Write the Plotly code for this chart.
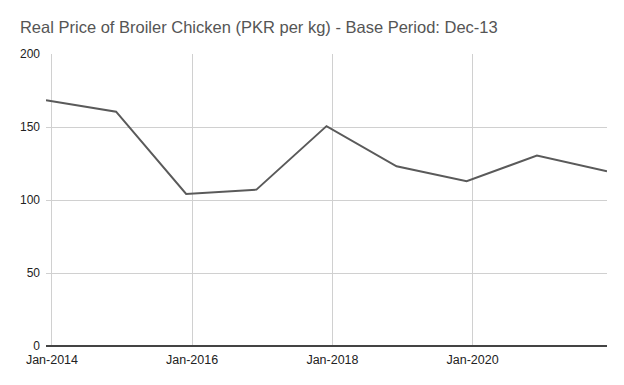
import plotly.graph_objects as go

dates = ["2013-12-01", "2014-12-01", "2015-12-01", "2016-12-01", "2017-12-01",
         "2018-12-01", "2019-12-01", "2020-12-01", "2021-12-01"]
prices = [168.3, 160.5, 104.1, 107.1, 150.6, 123.1, 112.8, 130.5, 119.7]

tick_dates = ["2014-01-01", "2016-01-01", "2018-01-01", "2020-01-01"]
tick_labels = ["Jan-2014", "Jan-2016", "Jan-2018", "Jan-2020"]
y_ticks = [0, 50, 100, 150, 200]

fig = go.Figure()
fig.add_trace(go.Scatter(x=dates, y=prices, mode="lines",
                         line=dict(color="#5a5a5a", width=2), hoverinfo="x+y"))

fig.update_layout(
    width=624, height=385,
    margin=dict(l=46, r=17, t=54, b=39),
    paper_bgcolor="white", plot_bgcolor="white",
    font=dict(family="Liberation Sans, Arial, sans-serif", size=12, color="#222"),
    title=dict(text="Real Price of Broiler Chicken (PKR per kg) - Base Period: Dec-13",
               x=0.032, xanchor="left", y=0.93, yanchor="middle",
               font=dict(size=16.5, color="#555")),
    showlegend=False,
    xaxis=dict(type="date", range=[dates[0], dates[-1]],
               tickvals=tick_dates, ticktext=tick_labels,
               tickfont=dict(size=12.5),
               showgrid=True, gridcolor="#d0d0d0", gridwidth=1,
               zeroline=False, showline=False, ticks="", ticklen=0,
               ticklabelstandoff=4),
    yaxis=dict(range=[0, 200], tickvals=y_ticks,
               showgrid=True, gridcolor="#d0d0d0", gridwidth=1,
               zeroline=True, zerolinecolor="#444", zerolinewidth=2,
               showline=False, ticks="", ticklabelstandoff=5),
)

fig.write_html("out.html", config={"displayModeBar": False},
               post_script="document.body.style.margin='0';document.body.style.padding='0';window.dispatchEvent(new Event('resize'));")
